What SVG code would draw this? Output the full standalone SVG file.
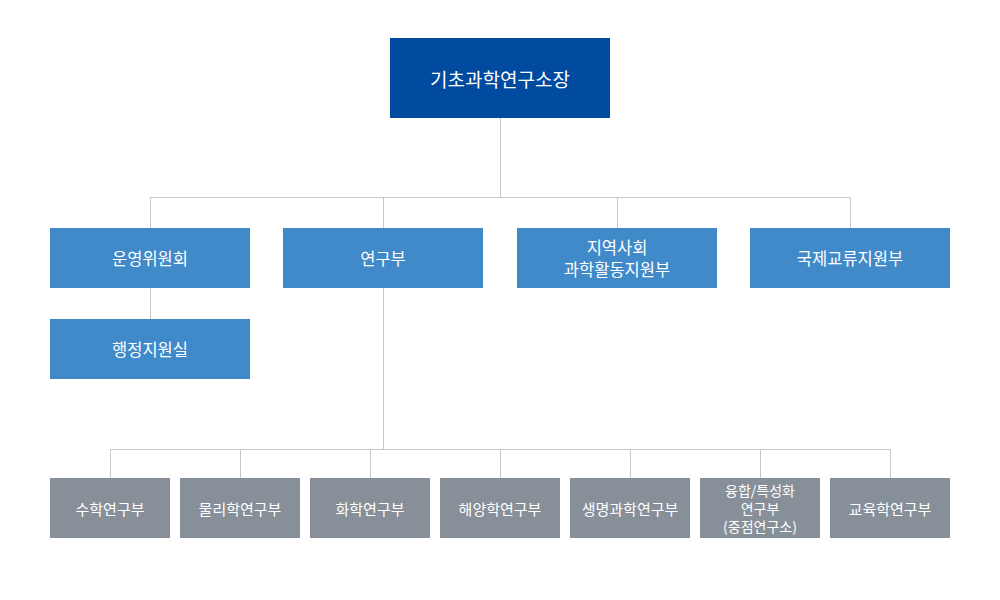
<svg xmlns="http://www.w3.org/2000/svg" width="1000" height="600" viewBox="0 0 1000 600">
<style>
text{font-family:"Noto Sans CJK KR","Noto Sans",sans-serif;fill:#fff;text-anchor:middle;dominant-baseline:central}
.top rect{fill:#004aa0}
.mid rect{fill:#418ac9}
.bot rect{fill:#878f99}
.top text{font-size:19px}
.mid text{font-size:16.5px}
.bot text{font-size:15px}
.bot text.s{font-size:14px}
#connectors path{stroke:#c8c8c8;stroke-width:1;fill:none}
</style>
<rect width="1000" height="600" fill="#fff"/>
<g id="connectors">
<path d="M500.5 118V197.5M150.5 197.5H850.5M150.5 197.5V228M383.5 197.5V228M617.5 197.5V228M850.5 197.5V228"/>
<path d="M150.5 288V319"/>
<path d="M383.5 288V449.5M110.5 449.5H890.5M110.5 449.5V478M240.5 449.5V478M370.5 449.5V478M500.5 449.5V478M630.5 449.5V478M760.5 449.5V478M890.5 449.5V478"/>
</g>
<g id="director" class="top"><rect x="390" y="38" width="220" height="80"/><text x="500" y="78">기초과학연구소장</text></g>
<g id="committee" class="mid"><rect x="50" y="228" width="200" height="60"/><text x="150" y="258">운영위원회</text></g>
<g id="admin" class="mid"><rect x="50" y="319" width="200" height="60"/><text x="150" y="349">행정지원실</text></g>
<g id="research" class="mid"><rect x="283" y="228" width="200" height="60"/><text x="383" y="258">연구부</text></g>
<g id="community" class="mid"><rect x="517" y="228" width="200" height="60"/><text x="617" y="247">지역사회</text><text x="617" y="269">과학활동지원부</text></g>
<g id="intl" class="mid"><rect x="750" y="228" width="200" height="60"/><text x="850" y="258">국제교류지원부</text></g>
<g id="math" class="bot"><rect x="50" y="478" width="120" height="60"/><text x="110" y="508">수학연구부</text></g>
<g id="physics" class="bot"><rect x="180" y="478" width="120" height="60"/><text x="240" y="508">물리학연구부</text></g>
<g id="chem" class="bot"><rect x="310" y="478" width="120" height="60"/><text x="370" y="508">화학연구부</text></g>
<g id="ocean" class="bot"><rect x="440" y="478" width="120" height="60"/><text x="500" y="508">해양학연구부</text></g>
<g id="bio" class="bot"><rect x="570" y="478" width="120" height="60"/><text x="630" y="508">생명과학연구부</text></g>
<g id="fusion" class="bot"><rect x="700" y="478" width="120" height="60"/><text class="s" x="760" y="489.5">융합/특성화</text><text class="s" x="760" y="507.5">연구부</text><text class="s" x="760" y="525.5">(중점연구소)</text></g>
<g id="edu" class="bot"><rect x="830" y="478" width="120" height="60"/><text x="890" y="508">교육학연구부</text></g>
</svg>
